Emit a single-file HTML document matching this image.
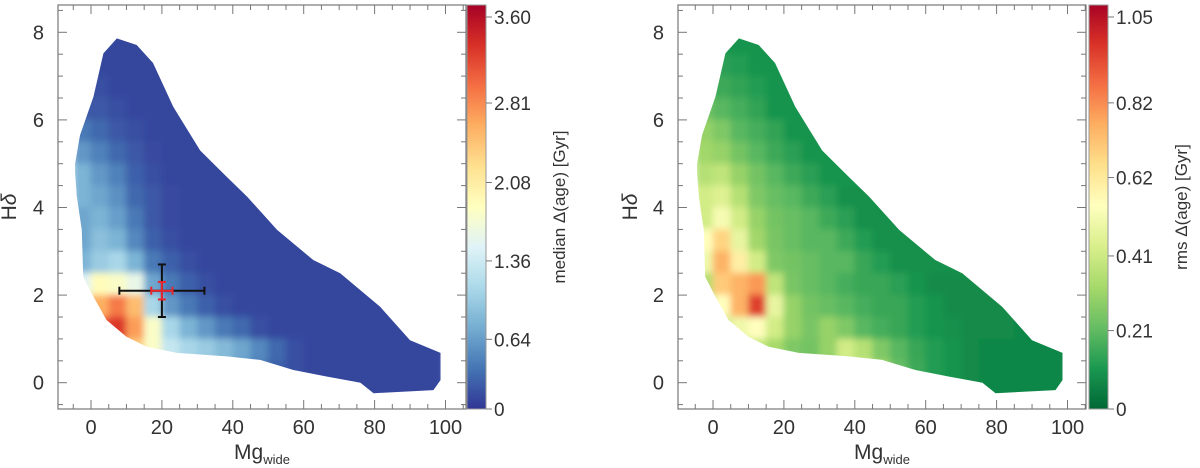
<!DOCTYPE html>
<html><head><meta charset="utf-8"><style>
body{margin:0;background:#fff;}
svg{display:block;font-family:"Liberation Sans",sans-serif;}
</style></head><body>
<svg id="fig" width="1200" height="468"></svg>
<script>
// shared footprint boundary (Mg_wide, Hdelta)
const boundaryMg=[-4.5,-3.1,0.7,3.5,7.3,12.9,17.5,23.2,30.8,38.3,44,52.5,62.7,70.3,81.6,90,98.6,98.6,96.6,79.7,76,66.6,57.1,47.7,38.3,24.2,15.7,10,4.4,0.7,-2.2,-2.6,-4,-4.5];
const boundaryH=[5.0,5.65,6.53,7.52,7.86,7.71,7.3,6.3,5.3,4.7,4.25,3.49,2.8,2.5,1.73,0.97,0.68,0.06,-0.17,-0.24,0,0.14,0.29,0.52,0.6,0.68,0.82,1.05,1.43,1.96,2.42,3.49,4.25,4.8];
// grid bins
const mgEdges=[-5,0,5,10,15,20,25,30,35,40,45,50,55,60,65,70,75,80,85,90,95,100];
const hEdges=[8,7.5,7,6.5,6,5.5,5,4.5,4,3.5,3,2.5,2,1.5,1,0.5,0,-0.5];
// median Δ(age) [Gyr], rows from top (h 7.5-8) down
const medianGrid=[
[.1,.1,.1,.1,.1,.1,.1,.1,.1,.1,.1,.1,.1,.1,.1,.1,.1,.1,.1,.1,.1],
[.1,.1,.1,.1,.1,.1,.1,.1,.1,.1,.1,.1,.1,.1,.1,.1,.1,.1,.1,.1,.1],
[.15,.15,.1,.1,.1,.1,.1,.1,.1,.1,.1,.1,.1,.1,.1,.1,.1,.1,.1,.1,.1],
[.2,.2,.15,.1,.1,.1,.1,.1,.1,.1,.1,.1,.1,.1,.1,.1,.1,.1,.1,.1,.1],
[.4,.3,.2,.15,.1,.1,.1,.1,.1,.1,.1,.1,.1,.1,.1,.1,.1,.1,.1,.1,.1],
[.6,.45,.3,.2,.12,.1,.1,.1,.1,.1,.1,.1,.1,.1,.1,.1,.1,.1,.1,.1,.1],
[.8,.6,.45,.25,.15,.1,.1,.1,.1,.1,.1,.1,.1,.1,.1,.1,.1,.1,.1,.1,.1],
[.8,.7,.55,.3,.2,.12,.1,.1,.1,.1,.1,.1,.1,.1,.1,.1,.1,.1,.1,.1,.1],
[.7,.8,.65,.4,.2,.12,.1,.1,.1,.1,.1,.1,.1,.1,.1,.1,.1,.1,.1,.1,.1],
[.7,.9,.8,.5,.25,.15,.1,.1,.1,.1,.1,.1,.1,.1,.1,.1,.1,.1,.1,.1,.1],
[.8,1.0,1.1,.8,.4,.25,.15,.1,.1,.1,.1,.1,.1,.1,.1,.1,.1,.1,.1,.1,.1],
[1.5,1.9,1.8,1.6,.7,.4,.25,.15,.1,.1,.1,.1,.1,.1,.1,.1,.1,.1,.1,.1,.1],
[2.1,2.6,2.9,2.5,1.1,.6,.4,.25,.15,.1,.1,.1,.1,.1,.1,.1,.1,.1,.1,.1,.1],
[2.8,3.1,3.3,2.7,1.8,1.1,.8,.6,.4,.3,.15,.1,.1,.1,.1,.1,.1,.1,.1,.1,.1],
[2.8,3.1,3.1,2.4,1.8,1.3,1.1,1.0,.85,.7,.5,.3,.15,.1,.1,.1,.1,.1,.1,.1,.1],
[.1,.1,.1,.1,1.2,1.1,.9,.85,.8,.6,.4,.25,.15,.1,.1,.1,.1,.1,.1,.1,.1],
[.1,.1,.1,.1,.1,.1,.1,.1,.1,.1,.1,.1,.1,.1,.1,.1,.1,.1,.1,.1,.1]];
// rms Δ(age) [Gyr]
const rmsGrid=[
[.1,.1,.1,.1,.1,.1,.1,.1,.1,.1,.1,.1,.1,.1,.1,.1,.1,.1,.1,.1,.1],
[.14,.13,.12,.1,.1,.1,.1,.1,.1,.1,.1,.1,.1,.1,.1,.1,.1,.1,.1,.1,.1],
[.18,.16,.14,.12,.1,.1,.1,.1,.1,.1,.1,.1,.1,.1,.1,.1,.1,.1,.1,.1,.1],
[.24,.2,.17,.14,.1,.1,.1,.1,.1,.1,.1,.1,.1,.1,.1,.1,.1,.1,.1,.1,.1],
[.3,.26,.2,.17,.14,.1,.1,.1,.1,.1,.1,.1,.1,.1,.1,.1,.1,.1,.1,.1,.1],
[.32,.3,.24,.2,.16,.13,.1,.1,.1,.1,.1,.1,.1,.1,.1,.1,.1,.1,.1,.1,.1],
[.36,.38,.3,.24,.2,.16,.13,.1,.1,.1,.1,.1,.1,.1,.1,.1,.1,.1,.1,.1,.1],
[.42,.45,.36,.26,.22,.2,.16,.13,.09,.09,.09,.09,.09,.09,.09,.09,.09,.09,.09,.09,.09],
[.42,.52,.42,.3,.24,.22,.2,.16,.13,.09,.09,.09,.09,.09,.09,.09,.09,.09,.09,.09,.09],
[.55,.68,.48,.32,.25,.22,.2,.2,.16,.12,.09,.09,.09,.09,.09,.09,.09,.09,.09,.09,.09],
[.5,.75,.6,.42,.26,.24,.22,.2,.2,.15,.12,.09,.09,.09,.09,.09,.09,.09,.09,.09,.09],
[.35,.7,.75,.8,.38,.25,.22,.2,.17,.15,.15,.13,.1,.08,.08,.08,.08,.08,.08,.08,.08],
[.3,.55,.75,.95,.48,.3,.24,.22,.2,.17,.15,.15,.12,.1,.08,.08,.08,.08,.08,.08,.08],
[.3,.4,.5,.55,.42,.3,.25,.3,.26,.2,.17,.15,.12,.1,.09,.08,.08,.08,.07,.07,.07],
[.3,.4,.45,.4,.33,.26,.24,.3,.42,.36,.26,.2,.15,.12,.1,.08,.07,.07,.07,.07,.07],
[.3,.3,.3,.3,.3,.3,.3,.32,.38,.42,.32,.22,.16,.12,.1,.08,.07,.07,.07,.07,.07],
[.07,.07,.07,.07,.07,.07,.07,.07,.07,.07,.07,.07,.07,.07,.1,.08,.07,.07,.07,.07,.07]];
const yTicks=[0,2,4,6,8];
const xTicks=[0,20,40,60,80,100];
const cbTicksL=[0,0.64,1.36,2.08,2.81,3.60];
const cbTicksR=[0,0.21,0.41,0.62,0.82,1.05];
const errX=[8,32], errY=[1.5,2.7], errC=[20,2.1], errXr=[17,23], errYr=[1.9,2.3];

const RdYlBu=['#313695','#4575b4','#74add1','#abd9e9','#e0f3f8','#ffffbf','#fee090','#fdae61','#f46d43','#d73027','#a50026'];
const RdYlGn=['#006837','#1a9850','#66bd63','#a6d96a','#d9ef8b','#ffffbf','#fee08b','#fdae61','#f46d43','#d73027','#a50026'];
function hex(c){return [1,3,5].map(i=>parseInt(c.substr(i,2),16));}
function cmap(stops,t){t=Math.max(0,Math.min(1,t));const f=t*(stops.length-1),i=Math.min(stops.length-2,Math.floor(f)),u=f-i;const a=hex(stops[i]),b=hex(stops[i+1]);return 'rgb('+a.map((v,k)=>Math.round(v+(b[k]-v)*u)).join(',')+')';}

const NS='http://www.w3.org/2000/svg';
const svg=document.getElementById('fig');
function el(tag,attrs,parent){const e=document.createElementNS(NS,tag);for(const k in attrs)e.setAttribute(k,attrs[k]);(parent||svg).appendChild(e);return e;}

function panel(id,X0,fL,fR,grid,stops,vmax,cbX,cbTicks,cbLabel,yLabX){
  const sx=mg=>X0+3.545*mg, sy=h=>382.7-43.8*h;
  const g=el('g',{});
  
  
  const cp=el('clipPath',{id:'clip'+id},g);
  el('polygon',{points:boundaryMg.map((m,i)=>sx(m)+','+sy(boundaryH[i])).join(' ')},cp);
  const cells=el('g',{'clip-path':'url(#clip'+id+')',filter:'url(#soft)'},g);
  
  
  for(let r=0;r<grid.length;r++)for(let c=0;c<grid[r].length;c++){
    const x=sx(mgEdges[c]),w=sx(mgEdges[c+1])-x,y=sy(hEdges[r]),hh=sy(hEdges[r+1])-y;
    const rc=el('rect',{x:x-0.3,y:y-0.3,width:w+0.6,height:hh+0.6,fill:cmap(stops,grid[r][c]/vmax)},cells);
    
    
  }
  const fr=el('rect',{x:fL,y:5,width:fR-fL,height:404,fill:'none',stroke:'#777','stroke-width':1.2},g);
  
  
  for(let v=-0.5;v<=8.6;v+=0.5){const y=sy(v);if(y<5||y>409)continue;const L=(Math.abs(v%2)<1e-6)?9:5;
    el('line',{x1:fL,x2:fL+L,y1:y,y2:y,stroke:'#777'},g);el('line',{x1:fR,x2:fR-L,y1:y,y2:y,stroke:'#777'},g);}
  for(let v=-10;v<=110;v+=5){const x=sx(v);if(x<fL||x>fR)continue;const L=(v%20===0)?9:5;
    el('line',{x1:x,x2:x,y1:409,y2:409-L,stroke:'#777'},g);el('line',{x1:x,x2:x,y1:5,y2:5+L,stroke:'#777'},g);}
  yTicks.forEach(v=>{const t=el('text',{x:fL-14,y:sy(v)+7,'text-anchor':'end','font-size':20,fill:'#333'},g);t.textContent=v;
    });
  xTicks.forEach(v=>{const t=el('text',{x:sx(v),y:434,'text-anchor':'middle','font-size':20,fill:'#333'},g);t.textContent=v;
    });
  const xl=el('text',{x:(fL+fR)/2,y:459,'text-anchor':'middle','font-size':21,fill:'#333'},g);
  xl.innerHTML='Mg<tspan font-size="13" dy="5">wide</tspan>';
  
  const yl=el('text',{x:yLabX,y:207,'text-anchor':'middle','font-size':21,fill:'#333',transform:'rotate(-90 '+yLabX+' 207)'},g);
  yl.innerHTML='H<tspan font-style="italic">δ</tspan>';
  
  const cb=el('g',{},g);
  
  const cbs=v=>409-v*(392/cbTicks[cbTicks.length-1]);
  for(let y=5;y<409;y+=2){const v=(409-y-1)/(392/cbTicks[cbTicks.length-1]);
    el('rect',{x:cbX,y:y,width:19,height:2.2,fill:cmap(stops,v/vmax)},cb);}
  el('rect',{x:cbX,y:5,width:19,height:404,fill:'none',stroke:'#999'},cb);
  cbTicks.forEach(v=>{const y=cbs(v);el('line',{x1:cbX+19,x2:cbX+25,y1:y,y2:y,stroke:'#777'},cb);
    const t=el('text',{x:cbX+27,y:y+7,'font-size':19,fill:'#333'},cb);t.textContent=v===0?'0':v.toFixed(2);
    });
  const lx=cbX+98;
  const cl=el('text',{x:lx,y:207,'text-anchor':'middle','font-size':17,fill:'#333',transform:'rotate(-90 '+lx+' 207)'},cb);
  cl.textContent=cbLabel;
  
  return {sx,sy,g};
}
const defs=el('defs',{});
const f=el('filter',{id:'soft',x:'-5%',y:'-5%',width:'110%',height:'110%'},defs);
el('feGaussianBlur',{stdDeviation:3.5},f);

const L=panel('left',91,58,466,medianGrid,RdYlBu,3.72,467,cbTicksL,'median Δ(age)  [Gyr]',16);
const R=panel('right',713,678,1086,rmsGrid,RdYlGn,1.09,1089,cbTicksR,'rms Δ(age)  [Gyr]',637);

const eb=el('g',{},L.g);

function cross(xr,yr,col,cap,w){
  el('line',{x1:L.sx(xr[0]),x2:L.sx(xr[1]),y1:L.sy(errC[1]),y2:L.sy(errC[1]),stroke:col,'stroke-width':w},eb);
  el('line',{x1:L.sx(errC[0]),x2:L.sx(errC[0]),y1:L.sy(yr[0]),y2:L.sy(yr[1]),stroke:col,'stroke-width':w},eb);
  xr.forEach(v=>el('line',{x1:L.sx(v),x2:L.sx(v),y1:L.sy(errC[1])-cap,y2:L.sy(errC[1])+cap,stroke:col,'stroke-width':w},eb));
  yr.forEach(v=>el('line',{y1:L.sy(v),y2:L.sy(v),x1:L.sx(errC[0])-cap,x2:L.sx(errC[0])+cap,stroke:col,'stroke-width':w},eb));
}
cross(errX,errY,'#111',4,2);
cross(errXr,errYr,'#e8262b',4,2);
</script>
</body></html>
